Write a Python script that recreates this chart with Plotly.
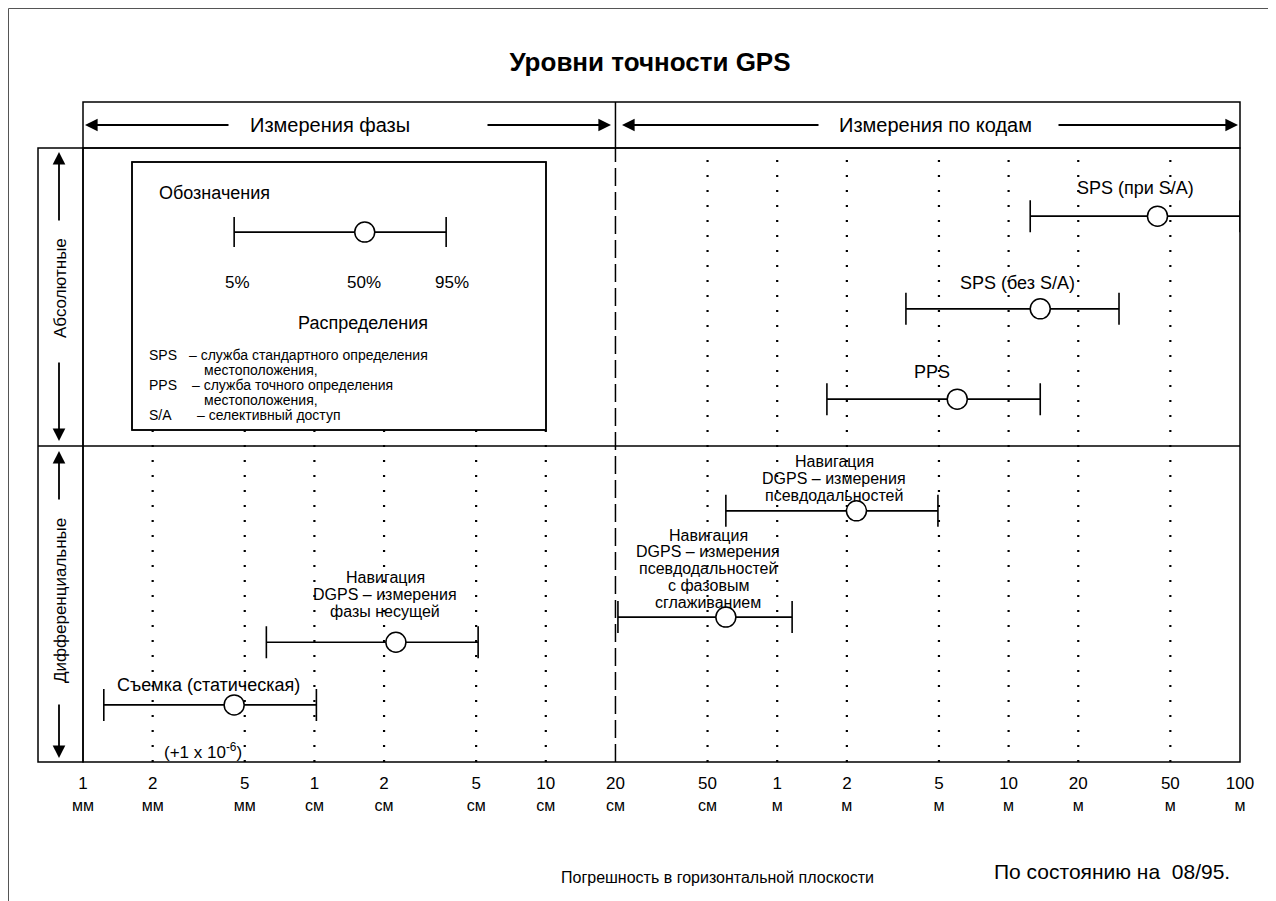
import math
import plotly.graph_objects as go

# горизонтальная шкала (мм), подписи делений
tick_vals = [1, 2, 5, 10, 20, 50, 100, 200, 500, 1000, 2000, 5000, 10000, 20000, 50000, 100000]
tick_nums = ["1", "2", "5", "1", "2", "5", "10", "20", "50", "1", "2", "5", "10", "20", "50", "100"]
tick_units = ["мм", "мм", "мм", "см", "см", "см", "см", "см", "см", "м", "м", "м", "м", "м", "м", "м"]

# погрешности, мм: 5%, 50%, 95%
services = ["SPS (при S/A)", "SPS (без S/A)", "PPS", "DGPS псевдодальности",
            "DGPS с фазовым сглаживанием", "DGPS фаза несущей", "Съемка (статическая)"]
p5 = [12400, 3600, 1640, 600, 205, 6.2, 1.23]
p50 = [44000, 13700, 6000, 2200, 600, 22.5, 4.5]
p95 = [100000, 30000, 13700, 4950, 1160, 51, 10.2]
row = [88.9, 73.8, 59.1, 40.9, 23.6, 19.5, 9.3]

# образец в блоке обозначений
legend_pct = [4.5, 16.5, 37.1]
legend_row = 86.3

FONT = "Liberation Sans, Arial, sans-serif"
# страница открывается с отступом body 8px
OFF = 8
W, H = 1276 - OFF, 901 - OFF
L, R, T, B = 83, 1240, 148, 762


def px(x):
    return (x - L) / (R - L)


def py(y):
    return (B - y) / (B - T)


def xlog(v):
    return math.log10(v) / 5


annotations = []
shapes = []


def label(text, x, y, size=18, anchor="center", **kw):
    annotations.append(dict(text=text, x=px(x), y=py(y), xref="paper", yref="paper",
                            showarrow=False, xanchor=anchor, yanchor="middle",
                            font=dict(size=size, family=FONT, color="black"), **kw))


def arrow(x, y, dx, dy):
    annotations.append(dict(text="", x=px(x), y=py(y), xref="paper", yref="paper",
                            ax=dx, ay=dy, axref="pixel", ayref="pixel", showarrow=True,
                            arrowhead=2, arrowsize=1.4, arrowwidth=1.8, arrowcolor="black",
                            standoff=0, startstandoff=0))


def line(x0, y0, x1, y1, width=1.5, dash="solid", color="black", layer="above"):
    shapes.append(dict(type="line", xref="paper", yref="paper", x0=x0, y0=y0, x1=x1, y1=y1,
                       line=dict(color=color, width=width, dash=dash), layer=layer))


def rect(x0, y0, x1, y1, width=1.5, fill=None, color="black", layer="above"):
    shapes.append(dict(type="rect", xref="paper", yref="paper",
                       x0=px(x0), y0=py(y0), x1=px(x1), y1=py(y1),
                       line=dict(color=color, width=width),
                       fillcolor=fill if fill else "rgba(0,0,0,0)", layer=layer))


fig = go.Figure()

# блок обозначений
box = (132, 162, 546, 430)
rect(*box, fill="white", layer="below")

# пунктирные вертикали по делениям (кроме краёв и 20 см), не заходят в блок обозначений
box_top = py(box[3]) * 100
gx, gy = [], []
for v in tick_vals[1:-1]:
    if v == 200:
        continue
    xp = L + xlog(v) * (R - L)
    top = box_top if box[0] - 1 <= xp <= box[2] + 1 else 100
    gx += [v, v, None]
    gy += [0, top, None]
fig.add_trace(go.Scatter(x=gx, y=gy, mode="lines", hoverinfo="skip",
                         line=dict(color="black", width=2.2, dash="2px,13px")))

# граница 20 см: фаза / коды
x20 = xlog(200)
line(x20, 0, x20, 1, width=1.5, dash="18px,6px")
line(x20, 1, x20, py(102), width=1.5)

# рамки
rect(OFF + 0.5, OFF + 0.5, 1270, 905, width=1, color="#555")
rect(*box)
rect(83, 102, 1240, 148)
rect(83, 148, 1240, 762)
rect(38, 148, 83, 762)
line(px(38), py(446), 1, py(446))

# интервалы 5%-95% с медианой
fig.add_trace(go.Scatter(
    x=p50, y=row, mode="markers", text=services, hoverinfo="text",
    marker=dict(symbol="circle", size=20, color="white", line=dict(color="black", width=1.5)),
    error_x=dict(type="data", symmetric=False,
                 array=[b - m for b, m in zip(p95, p50)],
                 arrayminus=[m - a for a, m in zip(p5, p50)],
                 color="black", thickness=1.6, width=16),
))
fig.add_trace(go.Scatter(
    x=[legend_pct[1]], y=[legend_row], mode="markers", hoverinfo="skip",
    marker=dict(symbol="circle", size=20, color="white", line=dict(color="black", width=1.5)),
    error_x=dict(type="data", symmetric=False,
                 array=[legend_pct[2] - legend_pct[1]],
                 arrayminus=[legend_pct[1] - legend_pct[0]],
                 color="black", thickness=1.6, width=15),
))

# шапка
label("Измерения фазы", 330, 125, 20)
arrow(85, 125, 145, 0)
arrow(611, 125, -125, 0)
label("Измерения по кодам", 935, 125, 20)
arrow(622, 125, 198, 0)
arrow(1238, 125, -181, 0)

# левая полоса
label("Абсолютные", 60, 288, 17, textangle=-90)
arrow(59, 152, 0, 70)
arrow(59, 441, 0, -80)
label("Дифференциальные", 60, 601, 17, textangle=-90)
arrow(59, 451, 0, 50)
arrow(59, 758, 0, -55)

# обозначения
label("Обозначения", 157, 193, 18, anchor="left")
label("5%", 237, 282, 17)
label("50%", 364, 282, 17)
label("95%", 452, 282, 17)
label("Распределения", 363, 323, 18)
label("SPS", 147, 355, 14, anchor="left")
label("– служба стандартного определения", 187, 355, 14, anchor="left")
label("местоположения,", 202, 370, 14, anchor="left")
label("PPS", 147, 385, 14, anchor="left")
label("– служба точного определения", 190, 385, 14, anchor="left")
label("местоположения,", 202, 400, 14, anchor="left")
label("S/A", 147, 415, 14, anchor="left")
label("– селективный доступ", 195, 415, 14, anchor="left")

# подписи интервалов
label("SPS (при S/A)", 1135, 188, 18)
label("SPS (без S/A)", 1017, 283, 18)
label("PPS", 932, 372, 18)
for i, t in enumerate(["Навигация", "DGPS – измерения", "псевдодальностей"]):
    label(t, 834, 461 + 17 * i, 16)
for i, t in enumerate(["Навигация", "DGPS – измерения", "псевдодальностей", "с фазовым", "сглаживанием"]):
    label(t, 708, 535 + 16.8 * i, 16)
for i, t in enumerate(["Навигация", "DGPS – измерения", "фазы несущей"]):
    label(t, 385, 577 + 17 * i, 16)
label("Съемка (статическая)", 208, 685, 18)
label("(+1 x 10<sup>-6</sup>)", 203, 751, 17)

# подписи внизу
label("Погрешность в горизонтальной плоскости", 717, 877, 16)
label("По состоянию на  08/95.", 1112, 871, 21)

fig.update_layout(
    width=W, height=H,
    margin=dict(l=L - OFF, r=W - (R - OFF), t=T - OFF, b=H - (B - OFF), pad=0),
    paper_bgcolor="white", plot_bgcolor="white",
    showlegend=False,
    font=dict(family=FONT, color="black"),
    title=dict(text="<b>Уровни точности GPS</b>", x=(650 - OFF) / W, xref="container",
               xanchor="center", y=1 - (62 - OFF) / H, yref="container", yanchor="middle",
               font=dict(size=26, family=FONT, color="black")),
    shapes=shapes,
    annotations=annotations,
)
fig.update_xaxes(
    type="log", range=[0, 5],
    tickvals=tick_vals,
    ticktext=[f"{n}<br><span style='font-size:16px'>{u}</span>" for n, u in zip(tick_nums, tick_units)],
    tickfont=dict(size=17, family=FONT, color="black"),
    ticks="", showline=False, zeroline=False, ticklabelstandoff=9, showgrid=False,
)
fig.update_yaxes(range=[0, 100], visible=False, showgrid=False, zeroline=False)

fig.write_html("out.html")
